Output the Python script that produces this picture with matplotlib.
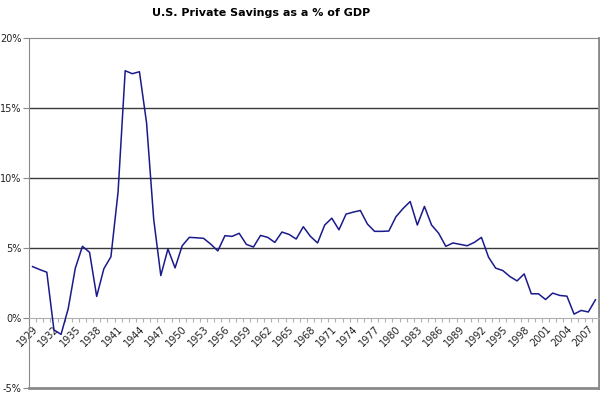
import numpy as np
from matplotlib import pyplot as plt
from matplotlib.transforms import ScaledTranslation

# data (% of GDP), 1929-2008
years = list(range(1929, 2009))
savings = [3.67, 3.46, 3.27, -0.85, -1.17, 0.66, 3.56, 5.12, 4.69, 1.54,
           3.51, 4.38, 9.0, 17.66, 17.45, 17.59, 13.94, 7.06, 3.03, 4.93,
           3.58, 5.16, 5.76, 5.73, 5.69, 5.28, 4.79, 5.88, 5.83, 6.05,
           5.26, 5.07, 5.9, 5.76, 5.4, 6.14, 5.97, 5.64, 6.52, 5.83,
           5.36, 6.64, 7.13, 6.3, 7.42, 7.56, 7.68, 6.71, 6.19, 6.19,
           6.21, 7.23, 7.82, 8.32, 6.64, 7.97, 6.64, 6.05, 5.12, 5.36,
           5.26, 5.16, 5.4, 5.76, 4.34, 3.56, 3.39, 2.96, 2.65, 3.15,
           1.73, 1.73, 1.32, 1.78, 1.61, 1.56, 0.28, 0.54, 0.43, 1.3]
y_ticks = [-5, 0, 5, 10, 15, 20]
title = "U.S. Private Savings as a % of GDP"

fig = plt.figure(figsize=(6, 3.93), dpi=100)
ax = fig.add_axes([29/600, 5/393, 570/600, 350/393])

x = np.arange(len(years))
ax.plot(x, savings, color='#1a1a8c', lw=1.1, zorder=3)

ax.set_xlim(-0.5, len(years) - 0.5)
ax.set_ylim(-5, 20)

# horizontal gridlines
for v in [5, 10, 15]:
    ax.axhline(v, color='#3a3a3a', lw=1.0, zorder=1)

# category axis sits at 0%
ax.spines['bottom'].set_position(('data', 0))
ax.spines['bottom'].set_color('#b0b0b0')
ax.spines['bottom'].set_linewidth(0.8)
ax.axhline(-5, color='#8a8a8a', lw=2, clip_on=False, zorder=2)
ax.spines['top'].set_color('#8a8a8a')
ax.spines['left'].set_color('#8a8a8a')
ax.spines['right'].set_color('#8a8a8a')
ax.spines['right'].set_linewidth(2)

lab_pos = x[::3]
ax.set_xticks(lab_pos)
ax.set_xticklabels([str(years[i]) for i in lab_pos], rotation=45,
                   ha='right', rotation_mode='anchor', fontsize=7,
                   color='#222222')
shift = ScaledTranslation(-7/72, 0, fig.dpi_scale_trans)
for lab in ax.get_xticklabels():
    lab.set_transform(lab.get_transform() + shift)
ax.set_xticks(np.arange(len(years) + 1) - 0.5, minor=True)
ax.tick_params(axis='x', which='major', length=0, pad=4)
ax.tick_params(axis='x', which='minor', length=3, color='#b0b0b0', width=0.8)

ax.set_yticks(y_ticks)
ax.set_yticklabels(['%d%%' % v for v in y_ticks], fontsize=7, color='#222222')
ax.tick_params(axis='y', length=4, color='#8a8a8a', pad=1.5)

fig.text(261/600, 1 - 13/393, title, ha='center', va='center',
         fontsize=8, fontweight='bold')

fig.savefig('out.png', dpi=100)
